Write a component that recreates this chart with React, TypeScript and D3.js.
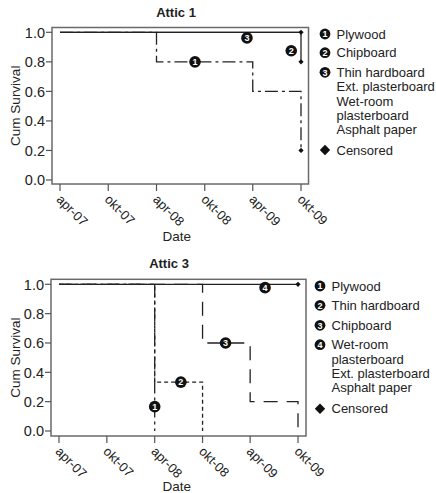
import React from "react";
import * as d3 from "d3";

const tickDates = ["2007-04-01", "2007-10-01", "2008-04-01", "2008-10-01", "2009-04-01", "2009-10-01"];
const tickLabels = ["apr-07", "okt-07", "apr-08", "okt-08", "apr-09", "okt-09"];
const yTicks = [0, 0.2, 0.4, 0.6, 0.8, 1.0];
const studyStart = "2007-04-01";
const studyEnd = "2009-10-01";

// Attic 1
const a1Plywood = { dates: ["2007-04-01", "2008-04-01", "2009-04-01", "2009-10-01"], surv: [1.0, 0.8, 0.6, 0.2] };
const a1Chipboard = { dates: ["2007-04-01", "2009-10-01"], surv: [1.0, 0.8] };
const a1Thin = { dates: ["2007-04-01", "2009-10-01"], surv: [1.0, 1.0] };
const a1CensorDates = ["2009-10-01", "2009-10-01", "2009-10-01"];
const a1CensorSurv = [1.0, 0.8, 0.2];
const a1LabelDates = ["2008-08-25", "2009-08-25", "2009-03-10"];
const a1LabelSurv = [0.8, 0.875, 0.962];
const a1Legend = [["Plywood"], ["Chipboard"], ["Thin hardboard", "Ext. plasterboard", "Wet-room", "plasterboard", "Asphalt paper"]];

// Attic 3
const a3Plywood = { dates: ["2007-04-01", "2008-04-01"], surv: [1.0, 0.0] };
const a3Thin = { dates: ["2007-04-01", "2008-04-01", "2008-10-01"], surv: [1.0, 0.333, 0.0] };
const a3Chipboard = { dates: ["2007-04-01", "2008-10-01", "2009-04-01", "2009-10-01"], surv: [1.0, 0.6, 0.2, 0.0] };
const a3Wet = { dates: ["2007-04-01", "2009-10-01"], surv: [1.0, 1.0] };
const a3CensorDates = ["2009-10-01"];
const a3CensorSurv = [1.0];
const a3LabelDates = ["2008-04-01", "2008-07-10", "2008-12-28", "2009-05-28"];
const a3LabelSurv = [0.166, 0.333, 0.6, 0.977];
const a3Legend = [["Plywood"], ["Thin hardboard"], ["Chipboard"], ["Wet-room", "plasterboard", "Ext. plasterboard", "Asphalt paper"]];

const FONT = "Liberation Sans, Arial, Helvetica, sans-serif";
const INK = "#222";

type Series = { dates: string[]; surv: number[]; dash: string };

type PanelProps = {
  title: string;
  titleX: number;
  frame: { l: number; t: number; r: number; b: number };
  xr: [number, number];
  yr: [number, number];
  series: Series[];
  censorDates: string[];
  censorSurv: number[];
  labelDates: string[];
  labelSurv: number[];
  legend: string[][];
  legendX: number;
  legendRows: number[];
  censorRow: number;
  dateY: number;
};

const parse = (s: string) => new Date(s + "T00:00:00");

function NumMarker({ x, y, n, r = 5.8 }: { x: number; y: number; n: number; r?: number }) {
  return (
    <g>
      <circle cx={x} cy={y} r={r} fill="#111" />
      <text x={x} y={y} dy="0.36em" textAnchor="middle" fill="#fff" fontSize={9} fontWeight="bold" fontFamily={FONT}>
        {n}
      </text>
    </g>
  );
}

function Diamond({ x, y, s }: { x: number; y: number; s: number }) {
  return <path d={`M${x},${y - s}L${x + s},${y}L${x},${y + s}L${x - s},${y}Z`} fill="#111" />;
}

function Panel(p: PanelProps) {
  const x = d3.scaleTime().domain([parse(studyStart), parse(studyEnd)]).range(p.xr);
  const y = d3.scaleLinear().domain([0, 1]).range(p.yr);
  const line = d3
    .line<[Date, number]>()
    .x((d) => x(d[0]))
    .y((d) => y(d[1]))
    .curve(d3.curveStepAfter);
  const f = p.frame;
  return (
    <g>
      <text x={p.titleX} y={f.t - 11} textAnchor="middle" fontSize={13} fontWeight="bold" fontFamily={FONT} fill={INK}>
        {p.title}
      </text>
      <rect x={f.l} y={f.t} width={f.r - f.l} height={f.b - f.t} fill="none" stroke="#6a6a6a" strokeWidth={1.5} />
      {yTicks.map((t) => (
        <g key={t}>
          <line x1={f.l - 6} x2={f.l} y1={y(t)} y2={y(t)} stroke="#555" strokeWidth={1.2} />
          <text x={f.l - 7} y={y(t)} dy="0.36em" textAnchor="end" fontSize={14.5} fontFamily={FONT} fill={INK}>
            {t.toFixed(1)}
          </text>
        </g>
      ))}
      {tickDates.map((d, i) => {
        const xx = x(parse(d));
        return (
          <g key={d}>
            <line x1={xx} x2={xx} y1={f.b} y2={f.b + 7} stroke="#555" strokeWidth={1.2} />
            <text
              transform={`translate(${xx - 1},${f.b + 13}) rotate(45)`}
              dy="0.36em"
              textAnchor="start"
              fontSize={13}
              fontFamily={FONT}
              fill={INK}
            >
              {tickLabels[i]}
            </text>
          </g>
        );
      })}
      <text x={176.7} y={p.dateY} textAnchor="middle" fontSize={13.5} fontFamily={FONT} fill={INK}>
        Date
      </text>
      <text
        transform={`translate(15,${(f.t + f.b) / 2}) rotate(-90)`}
        dy="0.36em"
        textAnchor="middle"
        fontSize={13.5}
        fontFamily={FONT}
        fill={INK}
      >
        Cum Survival
      </text>
      {p.series.map((s, i) => (
        <path
          key={i}
          d={line(s.dates.map((d, j) => [parse(d), s.surv[j]] as [Date, number])) || ""}
          fill="none"
          stroke={INK}
          strokeWidth={1.3}
          strokeDasharray={s.dash}
        />
      ))}
      {p.censorDates.map((d, i) => (
        <Diamond key={i} x={x(parse(d))} y={y(p.censorSurv[i])} s={2.6} />
      ))}
      {p.labelDates.map((d, i) => (
        <NumMarker key={i} x={x(parse(d))} y={y(p.labelSurv[i])} n={i + 1} />
      ))}
      {p.legend.map((lines, i) => (
        <g key={i}>
          <NumMarker x={p.legendX} y={p.legendRows[i]} n={i + 1} r={5.4} />
          {lines.map((t, j) => (
            <text
              key={j}
              x={p.legendX + 11.5}
              y={p.legendRows[i] + j * 14.3}
              dy="0.36em"
              fontSize={13}
              fontFamily={FONT}
              fill={INK}
            >
              {t}
            </text>
          ))}
        </g>
      ))}
      <Diamond x={p.legendX} y={p.censorRow} s={5.2} />
      <text x={p.legendX + 11.5} y={p.censorRow} dy="0.36em" fontSize={13} fontFamily={FONT} fill={INK}>
        Censored
      </text>
    </g>
  );
}

export default function App() {
  const s1: Series[] = [
    { ...a1Thin, dash: "none" },
    { ...a1Chipboard, dash: "none" },
    { ...a1Plywood, dash: "13,4,3,4" },
  ];
  const s3: Series[] = [
    { ...a3Wet, dash: "none" },
    { ...a3Chipboard, dash: "14,9" },
    { ...a3Thin, dash: "4,3" },
    { ...a3Plywood, dash: "13,4,3,4" },
  ];
  return (
    <svg width={436} height={493} style={{ position: "absolute", left: 0, top: 0, background: "#fff" }}>
      <Panel
        title="Attic 1"
        titleX={176}
        frame={{ l: 52, t: 27.5, r: 308.5, b: 184 }}
        xr={[60, 301]}
        yr={[180, 32.3]}
        series={s1}
        censorDates={a1CensorDates}
        censorSurv={a1CensorSurv}
        labelDates={a1LabelDates}
        labelSurv={a1LabelSurv}
        legend={a1Legend}
        legendX={325}
        legendRows={[34, 52.7, 72.3]}
        censorRow={150}
        dateY={240.5}
      />
      <Panel
        title="Attic 3"
        titleX={169}
        frame={{ l: 51, t: 279.3, r: 306, b: 436 }}
        xr={[59, 298]}
        yr={[431, 284.3]}
        series={s3}
        censorDates={a3CensorDates}
        censorSurv={a3CensorSurv}
        labelDates={a3LabelDates}
        labelSurv={a3LabelSurv}
        legend={a3Legend}
        legendX={320}
        legendRows={[286, 305.3, 325.3, 344.7]}
        censorRow={408.7}
        dateY={490.5}
      />
    </svg>
  );
}
